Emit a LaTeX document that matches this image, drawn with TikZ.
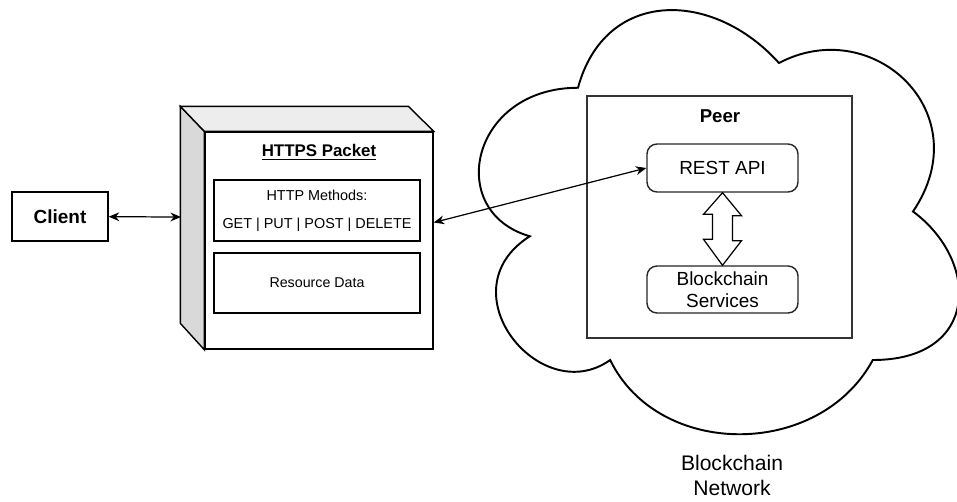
\documentclass[tikz,border=0pt]{standalone}
\usepackage{fontspec}
\setmainfont{Liberation Sans}
\usetikzlibrary{arrows.meta, positioning, calc}

\begin{document}
\begin{tikzpicture}[
        x=0.2mm, y=-0.2mm,
        box/.style={draw, line width=0.8pt, fill=white, inner sep=0pt},
        roundbox/.style={box, rounded corners=2mm, draw=black!85},
        link/.style={line width=0.7pt, {Stealth[length=6pt, width=5pt]}-{Stealth[length=6pt, width=5pt]}},
        cloudline/.style={line width=1.1pt, fill=white}
    ]
    \useasboundingbox (0,0) rectangle (957,501);

    % Cloud (Blockchain Network)
    \draw[cloudline] (578,87.75)
        .. controls (470.8,87.75) and (444,211.5) .. (529.76,236.25)
        .. controls (444,290.7) and (540.48,409.5) .. (610.16,360)
        .. controls (658.4,459) and (819.2,459) .. (872.8,360)
        .. controls (980,360) and (980,261) .. (913,211.5)
        .. controls (980,112.5) and (872.8,13.5) .. (779,63)
        .. controls (712,-11.25) and (604.8,-11.25) .. (578,87.75) -- cycle;
    \node[align=center, font=\fontsize{12}{14.2}\selectfont] (netlabel) at (732,475) {Blockchain\\Network};

    % Client
    \node[box, minimum width=19.2mm, minimum height=9.8mm, font=\fontsize{10.8}{13}\selectfont\bfseries] (client) at (60,216.5) {Client};

    % HTTPS Packet (3D box)
    \node[box, minimum width=45.6mm, minimum height=43.4mm] (front) at (319,240.5) {};
    \draw[line width=0.8pt, fill=black!15] (front.north west) -- ++(-24,-25) -- ++(0,217) -- (front.south west) -- cycle;
    \draw[line width=0.8pt, fill=black!7] (front.north west) -- ++(-24,-25) -- ++(228,0) -- (front.north east) -- cycle;
    \coordinate (sideW) at (181,217);
    \node[font=\fontsize{9.6}{12}\selectfont\bfseries] (title) at (319,152) {\underline{HTTPS Packet}};
    \node[box, minimum width=41.2mm, minimum height=12.2mm, align=center, font=\fontsize{8.2}{15.9}\selectfont] (methods) at (317,210.5) {HTTP Methods:\\GET | PUT | POST | DELETE};
    \node[box, minimum width=41.2mm, minimum height=12mm, font=\fontsize{8.1}{10}\selectfont] (resource) at (317,283) {Resource Data};

    % Peer
    \node[box, draw=black!80, minimum width=53mm, minimum height=48.4mm] (peer) at (719.5,217) {};
    \node[font=\fontsize{10.6}{13}\selectfont\bfseries] (peerlabel) at (720,116) {Peer};
    \node[roundbox, minimum width=30.2mm, minimum height=9.6mm, font=\fontsize{10.8}{13}\selectfont] (rest) at (722.5,168) {REST API};
    \node[roundbox, minimum width=30.2mm, minimum height=9.4mm, align=center, font=\fontsize{10.8}{12.5}\selectfont] (chain) at (722.5,289.5) {Blockchain\\Services};

    % Block arrow between REST API and services
    \draw[line width=0.7pt, fill=white] (rest.south) -- ++(19,23) -- ++(-9,0) -- ++(0,25)
        -- ++(9,0) -- (chain.north) -- ++(-19,-26) -- ++(9,0) -- ++(0,-25) -- ++(-9,0) -- cycle;

    % Connectors
    \draw[link] (client) -- (sideW);
    \draw[link] ($(front.east)+(0,-18)$) -- (rest.west);

\end{tikzpicture}
\end{document}
